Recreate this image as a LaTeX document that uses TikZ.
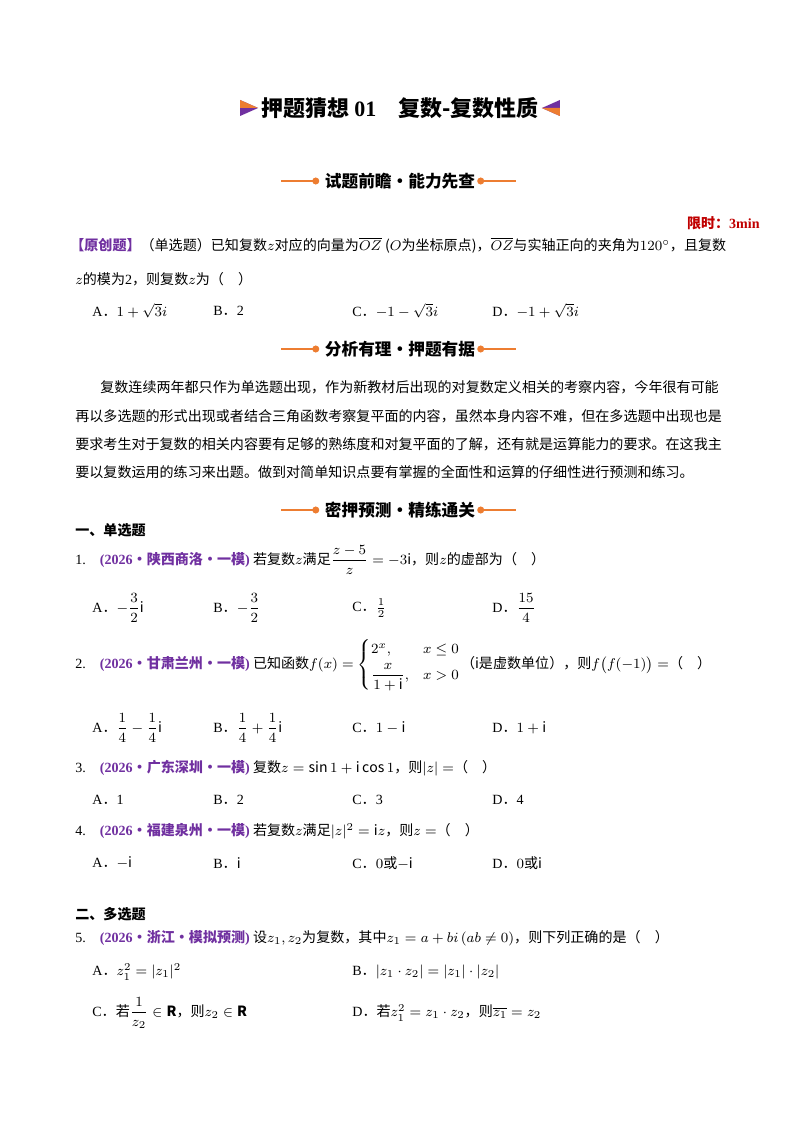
\documentclass[tikz,border=0pt]{standalone}
\usepackage{amsmath}
\usepackage{amssymb}
\usepackage{fontspec}
\setmainfont{Noto Sans CJK SC}
\newfontfamily\lat{Liberation Serif}
\usepackage{tikz}
\usetikzlibrary{positioning}
\definecolor{ypurple}{RGB}{112,48,160}
\definecolor{yorange}{RGB}{237,125,49}
\definecolor{yred}{RGB}{192,0,0}
\tikzset{x=0.02cm,y=-0.02cm,
  txt/.style={anchor=west,inner sep=0pt,font=\fontsize{8}{10}\selectfont},
  opt/.style={txt},
  head/.style={inner sep=0pt,font=\fontsize{9.5}{11}\selectfont\bfseries},
  bar/.style={yorange,line width=1.2pt}}
\newcommand{\hdr}[3]{%
  \node[head] (#1) at (400,#2) {#3};
  \fill[yorange] ([xshift=-5pt]#1.west) circle (2pt);
  \fill[yorange] ([xshift=3pt]#1.east) circle (2pt);
  \draw[bar] ([xshift=-5pt]#1.west) -- ++(-35,0);
  \draw[bar] ([xshift=3pt]#1.east) -- ++(35,0);}
\newcommand{\srcq}[1]{{\lat\bfseries\color{ypurple}(2026}\textcolor{ypurple}{\bfseries ·#1}{\lat\bfseries\color{ypurple})}}
\begin{document}
\begin{tikzpicture}
\useasboundingbox (0,0) rectangle (800,1132);
% title
\node[inner sep=0pt,font=\fontsize{12.5}{14}\selectfont\bfseries] (title) at (400,108) {押题猜想 {\lat 01}\quad 复数-复数性质};
\fill[ypurple] ([xshift=-12pt]title.west) -- ++(0,-8) -- ++(18,8) -- ++(-18,8) -- cycle;
\fill[yorange] ([xshift=-12pt]title.west) -- ++(0,-8) -- ++(18,8) -- cycle;
\fill[ypurple] ([xshift=12pt]title.east) -- ++(0,-8) -- ++(-18,8) -- ++(18,8) -- cycle;
\fill[yorange] ([xshift=12pt]title.east) -- ++(0,8) -- ++(-18,-8) -- cycle;
% sections
\hdr{h1}{181}{试题前瞻·能力先查}
\hdr{h2}{349}{分析有理·押题有据}
\hdr{h3}{510}{密押预测·精练通关}
\node[anchor=east,inner sep=0pt,text=yred,font=\fontsize{8}{10}\selectfont\bfseries] (time) at (760,223) {限时：{\lat 3min}};
% original question
\node[txt] (orig) at (70,245) {{\color{ypurple}\bfseries【原创题】}（单选题）已知复数$z$对应的向量为$\overline{OZ}$ ($O$为坐标原点)，$\overline{OZ}$与实轴正向的夹角为$120^\circ$，且复数};
\node[txt] (orig2) at (75,279) {$z$的模为{\lat 2}，则复数$z$为（\quad ）};
\node[opt] (oa) at (92,311) {{\lat A}．$1+\sqrt{3}i$};
\node[opt] (ob) at (213,311) {{\lat B}．{\lat 2}};
\node[opt] (oc) at (352,311) {{\lat C}．$-1-\sqrt{3}i$};
\node[opt] (od) at (492,311) {{\lat D}．$-1+\sqrt{3}i$};
% analysis
\node[txt] (p1) at (100,387) {复数连续两年都只作为单选题出现，作为新教材后出现的对复数定义相关的考察内容，今年很有可能};
\node[txt] (p2) at (75,416) {再以多选题的形式出现或者结合三角函数考察复平面的内容，虽然本身内容不难，但在多选题中出现也是};
\node[txt] (p3) at (75,444) {要求考生对于复数的相关内容要有足够的熟练度和对复平面的了解，还有就是运算能力的要求。在这我主};
\node[txt] (p4) at (75,472) {要以复数运用的练习来出题。做到对简单知识点要有掌握的全面性和运算的仔细性进行预测和练习。};
% single choice
\node[txt,font=\fontsize{8}{10}\selectfont\bfseries] (s1) at (75,530) {一、单选题};
\node[txt] (q1) at (75,560) {{\lat 1.}\quad\srcq{陕西商洛·一模} 若复数$z$满足$\dfrac{z-5}{z}=-3\mathrm{i}$，则$z$的虚部为（\quad ）};
\node[opt] (q1a) at (92,608) {{\lat A}．$-\dfrac{3}{2}\mathrm{i}$};
\node[opt] (q1b) at (213,608) {{\lat B}．$-\dfrac{3}{2}$};
\node[opt] (q1c) at (352,608) {{\lat C}．$\frac{1}{2}$};
\node[opt] (q1d) at (492,608) {{\lat D}．$\dfrac{15}{4}$};
\node[txt] (q2) at (75,665) {{\lat 2.}\quad\srcq{甘肃兰州·一模} 已知函数$f(x)=\begin{cases}2^x, & x\le 0\\[2pt] \dfrac{x}{1+\mathrm{i}}, & x>0\end{cases}$（i是虚数单位），则$f\big(f(-1)\big)=$（\quad ）};
\node[opt] (q2a) at (92,728) {{\lat A}．$\dfrac14-\dfrac14\mathrm{i}$};
\node[opt] (q2b) at (213,728) {{\lat B}．$\dfrac14+\dfrac14\mathrm{i}$};
\node[opt] (q2c) at (352,728) {{\lat C}．$1-\mathrm{i}$};
\node[opt] (q2d) at (492,728) {{\lat D}．$1+\mathrm{i}$};
\node[txt] (q3) at (75,768) {{\lat 3.}\quad\srcq{广东深圳·一模} 复数$z=\sin 1+\mathrm{i}\cos 1$，则$|z|=$（\quad ）};
\node[opt] (q3a) at (92,800) {{\lat A}．{\lat 1}};
\node[opt] (q3b) at (213,800) {{\lat B}．{\lat 2}};
\node[opt] (q3c) at (352,800) {{\lat C}．{\lat 3}};
\node[opt] (q3d) at (492,800) {{\lat D}．{\lat 4}};
\node[txt] (q4) at (75,831) {{\lat 4.}\quad\srcq{福建泉州·一模} 若复数$z$满足$|z|^2=\mathrm{i}z$，则$z=$（\quad ）};
\node[opt] (q4a) at (92,863) {{\lat A}．$-\mathrm{i}$};
\node[opt] (q4b) at (213,863) {{\lat B}．$\mathrm{i}$};
\node[opt] (q4c) at (352,863) {{\lat C}．$0$或$-\mathrm{i}$};
\node[opt] (q4d) at (492,863) {{\lat D}．$0$或$\mathrm{i}$};
% multiple choice
\node[txt,font=\fontsize{8}{10}\selectfont\bfseries] (s2) at (75,914) {二、多选题};
\node[txt] (q5) at (75,938) {{\lat 5.}\quad\srcq{浙江·模拟预测} 设$z_1,z_2$为复数，其中$z_1=a+bi\,(ab\ne 0)$，则下列正确的是（\quad ）};
\node[opt] (q5a) at (92,972) {{\lat A}．$z_1^2=|z_1|^2$};
\node[opt] (q5b) at (352,972) {{\lat B}．$|z_1\cdot z_2|=|z_1|\cdot|z_2|$};
\node[opt] (q5c) at (92,1013) {{\lat C}．若$\dfrac{1}{z_2}\in\mathbf{R}$，则$z_2\in\mathbf{R}$};
\node[opt] (q5d) at (352,1013) {{\lat D}．若$z_1^2=z_1\cdot z_2$，则$\overline{z_1}=z_2$};
\end{tikzpicture}
\end{document}
